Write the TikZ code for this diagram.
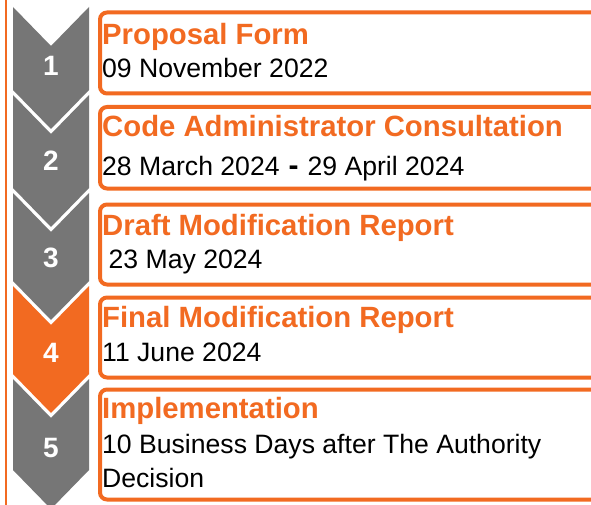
\documentclass[tikz,border=0pt]{standalone}
\usepackage{fontspec}
\setmainfont{Liberation Sans}
\definecolor{org}{RGB}{242,106,33}
\definecolor{chev}{RGB}{118,118,118}
\begin{document}
\begin{tikzpicture}[x=1pt,y=-1pt,
  stage/.style={draw=org,line width=4pt,rounded corners=7pt,fill=white,inner sep=0pt,anchor=north west,minimum width=540pt},
  ttl/.style={anchor=base west,inner sep=0pt,text=org,font=\fontsize{29.3}{34}\selectfont\bfseries},
  body/.style={anchor=base west,inner sep=0pt,text=black,font=\fontsize{26.6}{34}\selectfont},
  num/.style={anchor=base,inner sep=0pt,text=white,font=\fontsize{28}{28}\selectfont\bfseries}]
\useasboundingbox (0,0) rectangle (591,505);
\clip (0,0) rectangle (591,505);
\fill[white] (0,0) rectangle (591,505);
% left rule
\draw[org,line width=2.3pt] (6,-5) -- (6,515);
% chevrons
\foreach \t/\b/\c in {7/90/chev, 95/188/chev, 193/281/chev, 286/374/org, 379/470/chev} {
  \fill[\c] (13,\t) -- (51,\t+39) -- (89,\t) -- (89,\b) -- (51,\b+39) -- (13,\b) -- cycle;
}
\node[num] (n1) at (51,76) {1};
\node[num] (n2) at (51,171) {2};
\node[num] (n3) at (51,267) {3};
\node[num] (n4) at (51,362) {4};
\node[num] (n5) at (51,457) {5};
% boxes
\node[stage,minimum height=81pt] (b1) at (98,10.5) {};
\node[stage,minimum height=81.5pt] (b2) at (98,105) {};
\node[stage,minimum height=80pt] (b3) at (98,202.5) {};
\node[stage,minimum height=80pt] (b4) at (98,295.5) {};
\node[stage,minimum height=110pt] (b5) at (98,387.5) {};
% texts
\node[ttl] (t1) at (102,45) {Proposal Form};
\node[body] (d1) at (102,77.5) {09 November 2022};
\node[ttl] (t2) at (102,137) {Code Administrator Consultation};
\node[body] (d2) at (102,175.5) {28 March 2024\hspace{9pt}{\fontsize{30}{30}\selectfont\bfseries -}\hspace{9pt}29 April 2024};
\node[ttl] (t3) at (102,235) {Draft Modification Report};
\node[body] (d3) at (108.5,268) {23 May 2024};
\node[ttl] (t4) at (102,327) {Final Modification Report};
\node[body] (d4) at (102,361.5) {11 June 2024};
\node[ttl] (t5) at (102,418.5) {Implementation};
\node[body] (d5) at (102,453) {\vtop{\hbox{10 Business Days after The Authority}\hbox{Decision}}};
\end{tikzpicture}
\end{document}
